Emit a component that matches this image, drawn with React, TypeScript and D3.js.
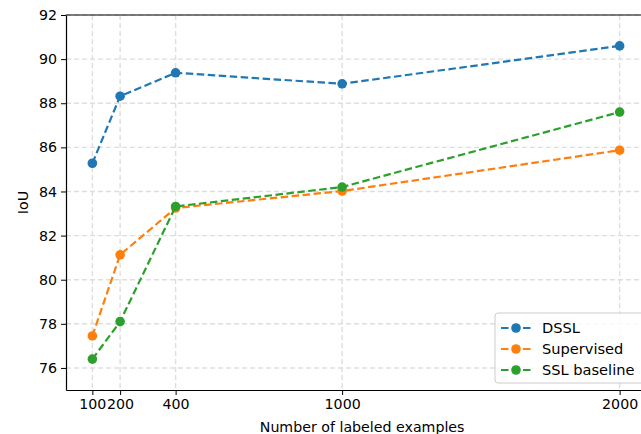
import React, { useEffect, useRef } from 'react';
import * as d3 from 'd3';

const xTicks = [100, 200, 400, 1000, 2000];
const yTicks = [76, 78, 80, 82, 84, 86, 88, 90, 92];
const dssl = [85.28, 88.32, 89.38, 88.88, 90.6];
const supervised = [77.45, 81.13, 83.25, 84.02, 85.87];
const sslBaseline = [76.4, 78.1, 83.32, 84.2, 87.6];

const series = [
  { name: 'DSSL', values: dssl, color: '#1f77b4' },
  { name: 'Supervised', values: supervised, color: '#ff7f0e' },
  { name: 'SSL baseline', values: sslBaseline, color: '#2ca02c' },
];

const App = () => {
  const svgRef = useRef<SVGSVGElement>(null);

  useEffect(() => {
    const margin = { top: 15, right: -5, bottom: 44, left: 66 };
    const W = 641, H = 434;
    const width = W - margin.left - margin.right;
    const height = H - margin.top - margin.bottom;
    const fs = 14.2;

    const svg = d3.select(svgRef.current)
      .attr('width', W)
      .attr('height', H)
      .style('font-family', 'DejaVu Sans, sans-serif');
    svg.selectAll('*').remove();

    const g = svg.append('g').attr('transform', `translate(${margin.left}, ${margin.top})`);

    const x = d3.scaleLinear().domain([5, 2095]).range([0, width]);
    const y = d3.scaleLinear().domain([75, 92]).range([height, 0]);

    // grid
    g.append('g').selectAll('line').data(xTicks).join('line')
      .attr('x1', d => x(d)).attr('x2', d => x(d))
      .attr('y1', 0).attr('y2', height)
      .attr('stroke', '#dedede').attr('stroke-width', 1.4).attr('stroke-dasharray', '5,3');
    g.append('g').selectAll('line').data(yTicks).join('line')
      .attr('x1', 0).attr('x2', width)
      .attr('y1', d => y(d)).attr('y2', d => y(d))
      .attr('stroke', '#dedede').attr('stroke-width', 1.4).attr('stroke-dasharray', '5,3');

    const line = d3.line<number>()
      .x((_, i) => x(xTicks[i]))
      .y(d => y(d));

    series.forEach(s => {
      g.append('path')
        .datum(s.values)
        .attr('d', line)
        .attr('fill', 'none')
        .attr('stroke', s.color)
        .attr('stroke-width', 2.2)
        .attr('stroke-dasharray', '7.5,3.5');
      g.append('g').selectAll('circle').data(s.values).join('circle')
        .attr('cx', (_, i) => x(xTicks[i]))
        .attr('cy', d => y(d))
        .attr('r', 4.8)
        .attr('fill', s.color);
    });

    // axes
    const xAxis = g.append('g')
      .attr('transform', `translate(0, ${height})`)
      .call(d3.axisBottom(x).tickValues(xTicks).tickSize(5).tickPadding(4).tickSizeOuter(0).tickFormat(d3.format('d')));
    const yAxis = g.append('g')
      .call(d3.axisLeft(y).tickValues(yTicks).tickSize(5).tickPadding(4).tickSizeOuter(0).tickFormat(d3.format('d')));
    [xAxis, yAxis].forEach(a => {
      a.selectAll('text').attr('font-size', fs).attr('fill', '#000').attr('font-family', 'DejaVu Sans, sans-serif');
      a.selectAll('line').attr('stroke', '#000').attr('stroke-width', 1);
      a.select('.domain').attr('stroke', '#000').attr('stroke-width', 1.2);
    });
    g.append('line').attr('x1', 0).attr('x2', width).attr('y1', 0).attr('y2', 0)
      .attr('stroke', '#000').attr('stroke-width', 1.2);

    // labels
    g.append('text')
      .attr('text-anchor', 'middle')
      .attr('x', x(1000) + 20)
      .attr('y', height + 42)
      .attr('font-size', fs)
      .text('Number of labeled examples');
    g.append('text')
      .attr('text-anchor', 'middle')
      .attr('transform', `translate(${-38}, ${height / 2}) rotate(-90)`)
      .attr('font-size', fs)
      .text('IoU');

    // legend
    const lg = svg.append('g').attr('transform', 'translate(495, 313)');
    lg.append('rect')
      .attr('width', 152).attr('height', 70).attr('rx', 3)
      .attr('fill', '#fff').attr('fill-opacity', 0.8)
      .attr('stroke', '#ccc');
    series.forEach((s, i) => {
      const yy = 15 + i * 21;
      lg.append('line')
        .attr('x1', 6).attr('x2', 36).attr('y1', yy).attr('y2', yy)
        .attr('stroke', s.color).attr('stroke-width', 2.2).attr('stroke-dasharray', '7.5,3.5');
      lg.append('circle').attr('cx', 21).attr('cy', yy).attr('r', 4.8).attr('fill', s.color);
      lg.append('text')
        .attr('x', 47).attr('y', yy + 5)
        .attr('font-size', 14.6)
        .text(s.name);
    });
  }, []);

  return (
    <div>
      <svg ref={svgRef} style={{ display: 'block', position: 'absolute', left: 0, top: 0 }}></svg>
    </div>
  );
};

export default App;
